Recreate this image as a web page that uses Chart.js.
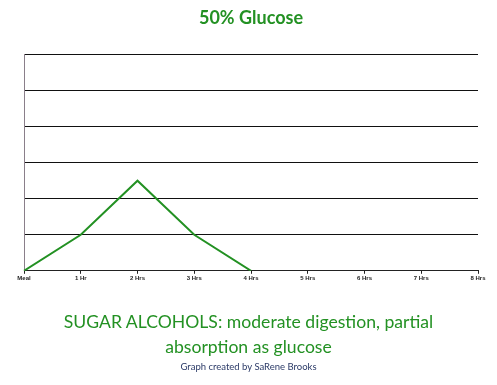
<!DOCTYPE html>
<html>
<head>
<meta charset="utf-8">
<script src="https://cdn.jsdelivr.net/npm/chart.js@4"></script>
<style>
  body { margin: 0; background: #fff; }
  #wrap { position: relative; width: 497px; height: 385px; }
  #nota {
    position: absolute; left: 0; top: 309px; width: 497px;
    text-align: center; color: #239123;
    font-family: Lato, "Open Sans", sans-serif; font-size: 17.6px; line-height: 25px;
  }
  #credito {
    position: absolute; left: 0; top: 361px; width: 497px;
    text-align: center; color: #2b3a67;
    font-family: Lato, "Open Sans", sans-serif; font-size: 9.5px;
  }
</style>
</head>
<body>
<div id="wrap">
  <canvas id="grafico" width="497" height="385"></canvas>
  <div id="nota">SUGAR ALCOHOLS: moderate digestion, partial<br>absorption as glucose</div>
  <div id="credito">Graph created by SaRene Brooks</div>
</div>
<script>
// Rótulos do eixo x (horas após a refeição)
const horas = ["Meal", "1 Hr", "2 Hrs", "3 Hrs", "4 Hrs", "5 Hrs", "6 Hrs", "7 Hrs", "8 Hrs"];
// Nível de glicose
const glicose = [0, 1, 2.5, 1, 0, null, null, null, null];
// Limites do eixo y (sem rótulos)
const yMin = 0;
const yMax = 6;

const verde = "#239123";

const ctx = document.getElementById("grafico").getContext("2d");
new Chart(ctx, {
  type: "line",
  data: {
    labels: horas,
    datasets: [{
      label: "50% Glucose",
      data: glicose,
      borderColor: verde,
      borderWidth: 2,
      pointRadius: 0,
      tension: 0,
      spanGaps: false,
    }],
  },
  options: {
    responsive: false,
    animation: false,
    layout: { padding: { left: 24, right: 19, top: 0, bottom: 102 } },
    plugins: {
      legend: { display: false },
      tooltip: { enabled: false },
      title: {
        display: true,
        text: "50% Glucose",
        color: verde,
        font: { family: "Lato, 'Open Sans', sans-serif", size: 18, weight: "bold" },
        padding: { top: 7, bottom: 26 },
      },
    },
    scales: {
      x: {
        offset: false,
        grid: { drawOnChartArea: false, drawTicks: true, tickLength: 3, color: "#222" },
        border: { color: "#222", width: 1 },
        ticks: {
          color: "#222",
          font: { family: "Liberation Sans, Arial, sans-serif", size: 6, weight: "bold" },
          padding: 1,
          maxRotation: 0,
          autoSkip: false,
        },
      },
      y: {
        min: yMin,
        max: yMax,
        grid: { color: "#111", lineWidth: 1, drawTicks: false },
        border: { color: "#8a7f8a", width: 1 },
        ticks: { display: false, stepSize: 1 },
      },
    },
  },
});
</script>
</body>
</html>
